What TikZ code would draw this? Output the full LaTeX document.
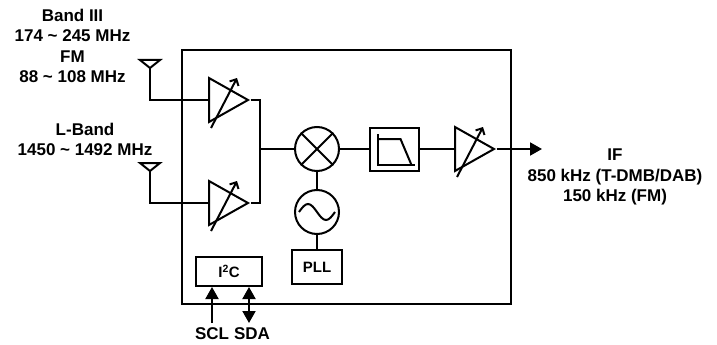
\documentclass[tikz,border=0pt]{standalone}
\usepackage{fontspec}
\setmainfont{Liberation Sans}
\usetikzlibrary{arrows.meta,shapes.geometric,calc}
\tikzset{every picture/.style={line width=2pt}}
\tikzset{amp/.style={draw, isosceles triangle, isosceles triangle stretches, minimum width=44pt, minimum height=39pt, inner sep=0pt}}
\tikzset{blk/.style={draw, rectangle, inner sep=0pt}}
\tikzset{rnd/.style={draw, circle, minimum size=44pt, inner sep=0pt}}
\tikzset{txt/.style={align=center, font=\bfseries\fontsize{17}{20.5}\selectfont}}
\tikzset{boxtxt/.style={font=\bfseries\fontsize{15}{18}\selectfont}}
\tikzset{gain/.style={-{Straight Barb[length=5pt,width=10pt]}}}
\tikzset{sig/.style={-{Triangle[length=12pt,width=13pt]}}}
\tikzset{dbl/.style={{Triangle[length=12pt,width=13pt]}-{Triangle[length=12pt,width=13pt]}}}

\begin{document}
\begin{tikzpicture}[x=1pt, y=-1pt]
\useasboundingbox (0,0) rectangle (717,345);
\node[blk, minimum width=329pt, minimum height=254pt] (chip) at (346.5,177) {};
\foreach \i/\y in {1/100, 2/203} {
\node[amp, anchor=west] (amp\i) at (208,\y) {};
\draw[gain] ($(amp\i.west)+(3,28)$) -- ($(amp\i.west)+(29,-22)$);
\coordinate (ant\i) at (150,\y-32);
\draw (ant\i) -- ++(-10,-8) -- ++(20,0) -- cycle;
\draw (ant\i) |- (amp\i.west);
}
\node[txt] (band3) at (72.5,46) {Band III\\174 \textasciitilde{} 245 MHz\\FM\\88 \textasciitilde{} 108 MHz};
\node[txt] (lband) at (85,139.5) {L-Band\\1450 \textasciitilde{} 1492 MHz};
\coordinate (join) at (260,149);
\draw (amp1.apex) -| (join) |- (amp2.apex);
\node[rnd] (mix) at (317,149) {};
\draw (mix.north west) -- (mix.south east) (mix.north east) -- (mix.south west);
\draw (join) -- (mix);
\node[blk, minimum width=49pt, minimum height=43pt] (lpf) at (394.5,149) {};
\draw ($(lpf)+(-17,-15)$) -- ++(0,31) -- ++(37,0);
\draw ($(lpf)+(-17,-10)$) -- ++(23,0) -- ++(11,26);
\draw (mix) -- (lpf);
\node[amp, anchor=west] (amp3) at (454,149) {};
\draw[gain] ($(amp3.west)+(3,28)$) -- ($(amp3.west)+(29,-22)$);
\draw (lpf) -- (amp3.west);
\coordinate (out) at (542,149);
\draw[sig] (amp3.apex) -- (out);
\node[txt] (ifout) at (615,177) {IF\\850 kHz (T-DMB/DAB)\\150 kHz (FM)};
\node[rnd] (osc) at (317,212) {};
\draw ($(osc)+(-18,0)$) sin ++(9,-8) cos ++(9,8) sin ++(9,8) cos ++(9,-8);
\draw (mix) -- (osc);
\node[blk, boxtxt, minimum width=50pt, minimum height=34pt] (pll) at (317,267) {PLL};
\draw (osc) -- (pll);
\node[blk, boxtxt, minimum width=66pt, minimum height=29pt] (i2c) at (229,271.5) {I\textsuperscript{2}C};
\coordinate (scl) at (212,323);
\draw[sig] (scl) -- (scl |- i2c.south);
\coordinate (sda) at (249,323);
\draw[dbl] (sda) -- (sda |- i2c.south);
\node[txt] (scllab) at (212,334) {SCL};
\node[txt] (sdalab) at (252,334) {SDA};
\end{tikzpicture}
\end{document}
